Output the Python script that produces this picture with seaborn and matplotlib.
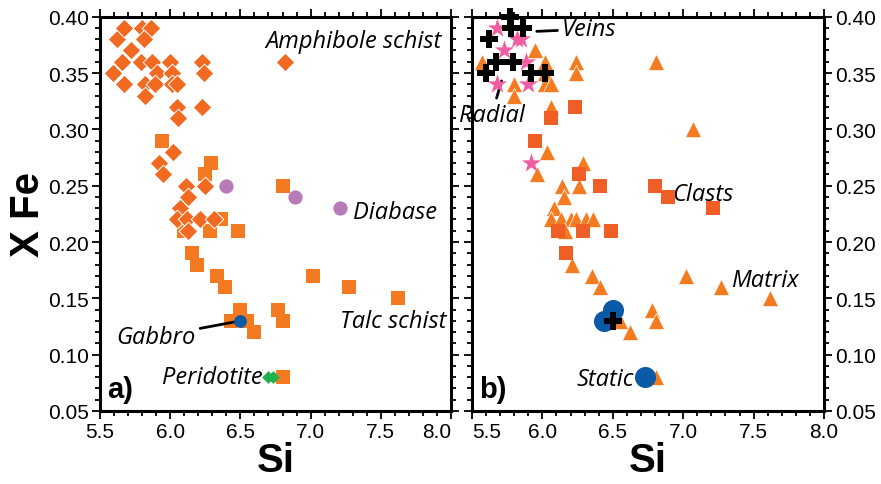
import matplotlib
matplotlib.use("Agg")
import matplotlib.pyplot as plt
import seaborn as sns
from matplotlib.ticker import MultipleLocator, FormatStrFormatter

# ---------------- data ----------------
# panel a
amph_si = [5.62, 5.67, 5.80, 5.86, 5.81, 5.72, 5.655, 5.79, 5.87, 6.00, 5.595, 5.905, 6.01,
           5.67, 5.82, 5.89, 6.01, 6.05, 5.82, 6.23, 6.24, 6.05, 6.055, 6.225, 6.82,
           6.02, 5.92, 5.95, 6.11, 6.25, 6.13, 6.07, 6.05, 6.12, 6.21, 6.31, 6.13]
amph_fe = [0.38, 0.39, 0.39, 0.39, 0.38, 0.37, 0.36, 0.36, 0.36, 0.36, 0.35, 0.35, 0.35,
           0.34, 0.34, 0.34, 0.34, 0.34, 0.33, 0.36, 0.35, 0.32, 0.31, 0.32, 0.36,
           0.28, 0.27, 0.26, 0.25, 0.25, 0.24, 0.23, 0.22, 0.22, 0.22, 0.22, 0.21]
talc_si = [5.94, 6.29, 6.25, 6.80, 6.10, 6.28, 6.36, 6.48, 6.155, 6.19, 6.33, 6.39, 6.50,
           6.43, 6.55, 6.60, 6.77, 6.80, 6.80, 7.02, 7.27, 7.62]
talc_fe = [0.29, 0.27, 0.26, 0.25, 0.21, 0.21, 0.22, 0.21, 0.19, 0.18, 0.17, 0.16, 0.14,
           0.13, 0.13, 0.12, 0.14, 0.13, 0.08, 0.17, 0.16, 0.15]
diab_si = [6.40, 6.89, 7.21]
diab_fe = [0.25, 0.24, 0.23]
gabb_si = [6.50]
gabb_fe = [0.13]
peri_si = [6.70, 6.73]
peri_fe = [0.08, 0.08]

# panel b
mat_si = [5.57, 5.95, 6.02, 6.02, 6.24, 6.24, 6.81, 5.80, 5.80, 6.02, 6.06, 6.06, 6.03, 6.29,
          5.96, 6.14, 6.26, 6.15, 6.08, 6.06, 6.13, 6.20, 6.24, 6.31, 6.36, 6.16, 6.21, 6.35,
          6.41, 6.55, 6.62, 6.78, 6.81, 6.81, 7.07, 7.02, 7.27, 7.62]
mat_fe = [0.36, 0.37, 0.36, 0.35, 0.36, 0.35, 0.36, 0.34, 0.33, 0.34, 0.34, 0.32, 0.28, 0.27,
          0.26, 0.25, 0.25, 0.24, 0.23, 0.22, 0.22, 0.22, 0.22, 0.22, 0.22, 0.21, 0.18, 0.17,
          0.16, 0.13, 0.12, 0.14, 0.13, 0.08, 0.30, 0.17, 0.16, 0.15]
clast_si = [6.23, 6.06, 5.95, 6.26, 6.41, 6.80, 6.11, 6.29, 6.49, 6.17, 6.89, 7.21]
clast_fe = [0.32, 0.31, 0.29, 0.26, 0.25, 0.25, 0.21, 0.21, 0.21, 0.19, 0.24, 0.23]
rad_si = [5.68, 5.82, 5.85, 5.73, 5.885, 5.68, 5.90, 5.92]
rad_fe = [0.39, 0.38, 0.38, 0.37, 0.36, 0.34, 0.34, 0.27]
vein_si = [5.77, 5.78, 5.865, 5.62, 5.67, 5.79, 5.60, 5.92, 6.02, 6.50]
vein_fe = [0.40, 0.39, 0.39, 0.38, 0.36, 0.36, 0.35, 0.35, 0.35, 0.13]
stat_si = [6.50, 6.44, 6.73]
stat_fe = [0.14, 0.13, 0.08]

x_ticks = [5.5, 6.0, 6.5, 7.0, 7.5, 8.0]
y_ticks = [0.05, 0.10, 0.15, 0.20, 0.25, 0.30, 0.35, 0.40]

# ---------------- style ----------------
sns.set_theme(style="ticks")
plt.rcParams['font.family'] = ['Liberation Sans', 'DejaVu Sans']
plt.rcParams['text.color'] = 'black'
plt.rcParams['axes.labelcolor'] = 'black'

ORANGE_D = '#F26A21'
ORANGE_S = '#F37A20'
PURPLE = '#B77BB8'
BLUE = '#0A5AA8'
GREEN = '#1DB04B'
ORANGE_T = '#F47B20'
RED_S = '#EE5E25'
PINK = '#EE5EA0'

fig = plt.figure(figsize=(8.81, 4.85), dpi=100)
W, H = 881, 485
bottom = 1 - 412 / H
height = (412 - 17.7) / H
ax1 = fig.add_axes([100 / W, bottom, 351 / W, height])
ax2 = fig.add_axes([472 / W, bottom, 352 / W, height])


def pts(ax, x, y, marker, color, s, ec='white', lw=0.4, z=3):
    sns.scatterplot(x=x, y=y, ax=ax, marker=marker, color=color, s=s,
                    edgecolor=ec, linewidth=lw, zorder=z, legend=False, clip_on=False)


# panel a
pts(ax1, talc_si, talc_fe, 's', ORANGE_S, 100, lw=0, z=3)
pts(ax1, amph_si, amph_fe, 'D', ORANGE_D, 90, lw=0.7, z=4)
pts(ax1, diab_si, diab_fe, 'o', PURPLE, 105, lw=0, z=4)
pts(ax1, gabb_si, gabb_fe, 'o', BLUE, 85, lw=0, z=5)
pts(ax1, peri_si, peri_fe, 'D', GREEN, 42, lw=0, z=5)

# panel b
pts(ax2, mat_si, mat_fe, '^', ORANGE_T, 135, lw=0.5, z=3)
pts(ax2, clast_si, clast_fe, 's', RED_S, 100, lw=0, z=4)
pts(ax2, stat_si, stat_fe, 'o', BLUE, 230, lw=0, z=5)
pts(ax2, rad_si, rad_fe, '*', PINK, 210, lw=0, z=6)
pts(ax2, vein_si, vein_fe, 'P', 'black', 165, lw=0, z=7)

for ax in (ax1, ax2):
    ax.set_xlim(x_ticks[0], x_ticks[-1])
    ax.set_ylim(y_ticks[0], y_ticks[-1])
    ax.set_xticks(x_ticks)
    ax.set_yticks(y_ticks)
    ax.xaxis.set_minor_locator(MultipleLocator(0.1))
    ax.yaxis.set_minor_locator(MultipleLocator(0.01))
    ax.xaxis.set_major_formatter(FormatStrFormatter('%.1f'))
    ax.yaxis.set_major_formatter(FormatStrFormatter('%.2f'))
    for sp in ax.spines.values():
        sp.set_visible(True)
        sp.set_linewidth(2.2)
        sp.set_color('black')
    ax.tick_params(which='both', direction='out', top=True, bottom=True, left=True, right=True,
                   color='black', width=1.3, labelsize=15, labelcolor='black')
    ax.tick_params(which='major', length=6, pad=2)
    ax.tick_params(which='minor', length=3.5)
    ax.set_xlabel('Si', fontsize=29, fontweight='bold', labelpad=0, color='black')
    ax.set_ylabel('')
    ax.set_facecolor('white')

ax1.tick_params(labelleft=True, labelright=False)
ax2.tick_params(labelleft=False, labelright=True)
ax1.set_ylabel('X Fe', fontsize=29, fontweight='bold', labelpad=1, color='black')

# avoid clash of the neighbouring 8.0 / 5.5 labels, as in the reference
ax1.get_xticklabels()[-1].set_horizontalalignment('right')
ax2.get_xticklabels()[0].set_horizontalalignment('left')

it = dict(fontsize=17, fontstyle='italic', family=['Open Sans', 'DejaVu Sans'], color='black')
ln = dict(arrowstyle='-', color='black', lw=2, shrinkA=1, shrinkB=0)

ax1.text(6.68, 0.378, 'Amphibole schist', ha='left', va='center', **it)
ax1.text(7.30, 0.227, 'Diabase', ha='left', va='center', **it)
ax1.text(7.21, 0.130, 'Talc schist', ha='left', va='center', **it)
ax1.text(6.66, 0.080, 'Peridotite', ha='right', va='center', **it)
ax1.annotate('Gabbro', xy=(6.50, 0.13), xytext=(6.18, 0.116), ha='right', va='center',
             arrowprops=ln, **it)
ax1.text(0.02, 0.02, 'a)', transform=ax1.transAxes, fontsize=21, fontweight='bold',
         ha='left', va='bottom')

ax2.annotate('Veins', xy=(5.96, 0.387), xytext=(6.14, 0.389), ha='left', va='center',
             arrowprops=ln, **it)
ax2.annotate('Radial', xy=(5.71, 0.343), xytext=(5.64, 0.313), ha='center', va='center',
             arrowprops=ln, **it)
ax2.text(6.92, 0.243, 'Clasts', ha='left', va='center', **it)
ax2.text(7.34, 0.166, 'Matrix', ha='left', va='center', **it)
ax2.text(6.65, 0.078, 'Static', ha='right', va='center', **it)
ax2.text(0.02, 0.02, 'b)', transform=ax2.transAxes, fontsize=21, fontweight='bold',
         ha='left', va='bottom')

fig.savefig('out.png', dpi=100, facecolor='white')
